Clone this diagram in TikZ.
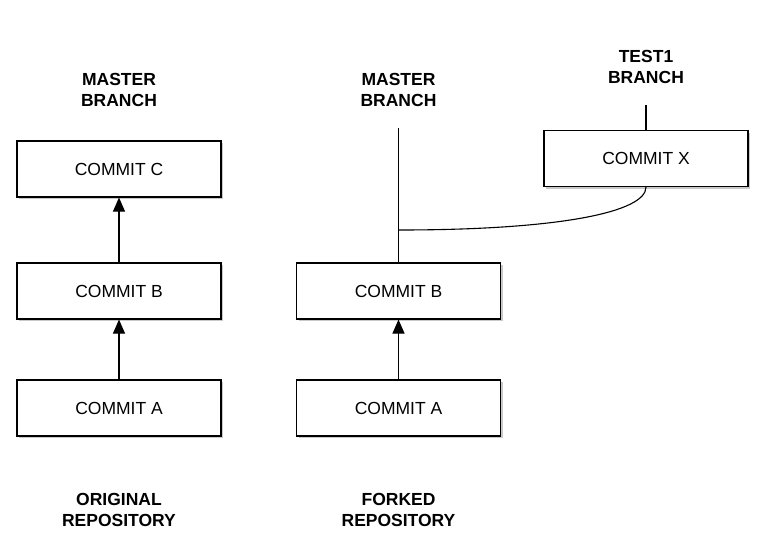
\documentclass[tikz,border=0pt]{standalone}
\usepackage{fontspec}
\setmainfont{Liberation Sans}
\usetikzlibrary{arrows.meta,shadows}
\begin{document}
\begin{tikzpicture}[x=1pt,y=-1pt,
  commit/.style={draw=black,line width=1.1pt,fill=white,minimum width=204pt,minimum height=56pt,inner sep=0pt,font=\fontsize{17.5}{20}\selectfont,
    drop shadow={shadow xshift=2pt,shadow yshift=-2pt,opacity=0.3,fill=black!70}},
  lbl/.style={font=\bfseries\fontsize{17.5}{21}\selectfont,align=center},
  conn/.style={line width=1.1pt},
  arr/.style={conn,-{Triangle[length=14pt,width=12pt]}}]
\useasboundingbox (0,0) rectangle (766,555);
% left repository
\node[commit] (lc) at (119,169) {COMMIT C};
\node[commit] (lb) at (119,291) {COMMIT B};
\node[commit] (la) at (119,408) {COMMIT A};
\node[lbl] (lm) at (119,89.5) {MASTER\\BRANCH};
\node[lbl] (lo) at (119,509.5) {ORIGINAL\\REPOSITORY};
\draw[arr] (la) -- (lb);
\draw[arr] (lb) -- (lc);
% forked repository
\node[commit] (rb) at (398.5,291) {COMMIT B};
\node[commit] (ra) at (398.5,408) {COMMIT A};
\node[commit] (rx) at (646,158.5) {COMMIT X};
\node[lbl] (rm) at (398.5,89.5) {MASTER\\BRANCH};
\node[lbl] (rt) at (646,66.5) {TEST1\\BRANCH};
\node[lbl] (rf) at (398.5,509.5) {FORKED\\REPOSITORY};
\coordinate (rmtop) at (398.5,128);
\coordinate (rttop) at (646,105);
\coordinate (join) at (398.5,230);
\draw[arr] (ra) -- (rb);
\draw[conn] (rmtop) -- (rb.north);
\draw[conn] (rttop) -- (rx.north);
\draw[conn] (rx.south) .. controls (646,212) and (560,230) .. (join);
\end{tikzpicture}
\end{document}
